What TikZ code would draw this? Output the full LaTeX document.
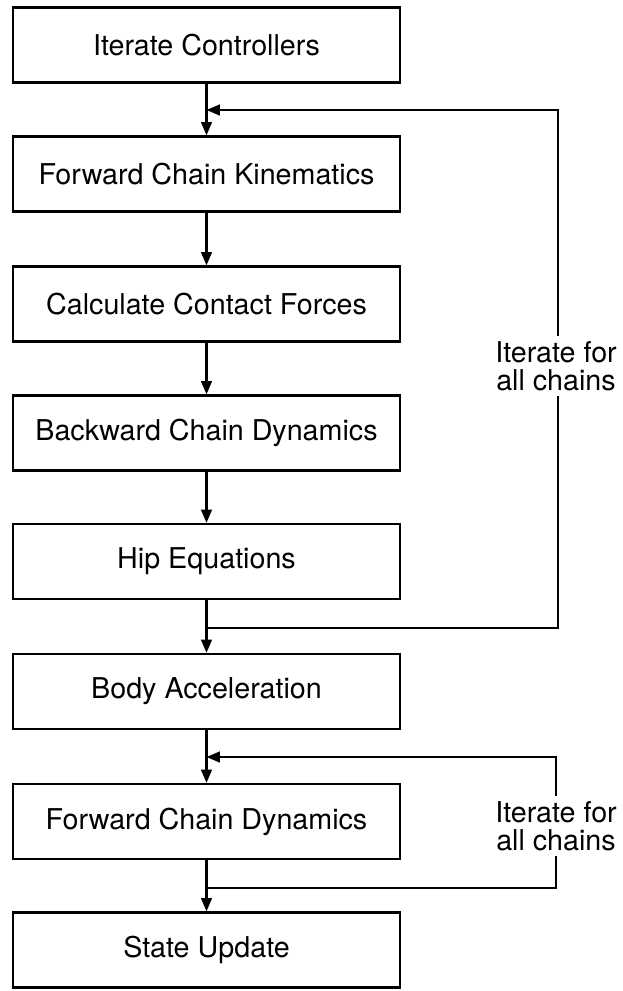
\documentclass[tikz,border=0pt]{standalone}
\usepackage{fontspec}
\setmainfont{TeX Gyre Heros}
\usetikzlibrary{arrows.meta}

\begin{document}
\begin{tikzpicture}[x=0.75pt,y=0.75pt,yscale=-1,xscale=1,
  stepbox/.style={draw,line width=1.9pt,minimum width=290pt,minimum height=56pt,inner sep=0pt,font=\fontsize{21.5}{24}\selectfont},
  flow/.style={line width=1.7pt,-{Triangle[length=10pt,width=8pt]}},
  link/.style={line width=1.7pt},
  itrnote/.style={font=\fontsize{21.5}{21}\selectfont,align=center,inner sep=4pt}]
\useasboundingbox (0,0) rectangle (622,991);

% Boxes
\node[stepbox] (ic)  at (206.5,45)    {Iterate Controllers};
\node[stepbox] (fck) at (206.5,174)   {Forward Chain Kinematics};
\node[stepbox] (ccf) at (206.5,304)   {Calculate Contact Forces};
\node[stepbox] (bcd) at (206.5,433)   {Backward Chain Dynamics};
\node[stepbox] (hip) at (206.5,561.5) {Hip Equations};
\node[stepbox] (ba)  at (206.5,691.5) {Body Acceleration};
\node[stepbox] (fcd) at (206.5,821.5) {Forward Chain Dynamics};
\node[stepbox] (su)  at (206.5,950)   {State Update};

% Text Node
\node[itrnote] (itr1) at (556,366) {Iterate for\\all chains};
\node[itrnote] (itr2) at (556,826) {Iterate for\\all chains};

% loop corners
\coordinate (t1) at (558,110);
\coordinate (b1) at (558,628);
\coordinate (t2) at (556,757);
\coordinate (b2) at (556,888);

% Straight Lines
\draw[flow] (ic) -- (fck);
\draw[flow] (fck) -- (ccf);
\draw[flow] (ccf) -- (bcd);
\draw[flow] (bcd) -- (hip);
\draw[flow] (hip) -- (ba);
\draw[flow] (ba) -- (fcd);
\draw[flow] (fcd) -- (su);

% first loop
\draw[link] (hip.south |- b1) -- (b1) -- (b1 |- itr1.south);
\draw[flow] (t1 |- itr1.north) -- (t1) -- (fck.north |- t1);

% second loop
\draw[link] (fcd.south |- b2) -- (b2) -- (b2 |- itr2.south);
\draw[flow] (t2 |- itr2.north) -- (t2) -- (fcd.north |- t2);

\end{tikzpicture}
\end{document}
